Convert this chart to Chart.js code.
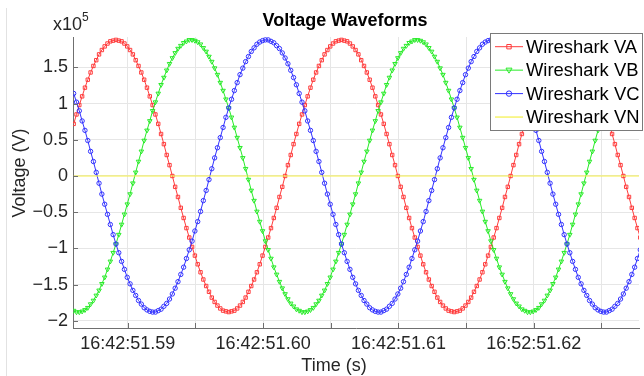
<!DOCTYPE html>
<html>
<head>
<meta charset="utf-8">
<title>Voltage Waveforms</title>
<script src="https://cdn.jsdelivr.net/npm/chart.js@4.4.0/dist/chart.umd.min.js"></script>
<style>
  html, body { margin: 0; padding: 0; background: #fff; }
  #wrap { position: relative; width: 644px; height: 376px; }
</style>
</head>
<body>
<div id="wrap"><canvas id="voltChart" width="644" height="376"></canvas></div>
<script>
/* ---- Data (voltages in units of 1e5 V) ---- */
const sampleStartMs = 586.0;          // ms after 16:42:51
const sampleStepMs = 1000 / 4800;     // 80 samples per 60 Hz cycle

const vaValues = [
  0.72, 0.85, 0.98, 1.10, 1.22, 1.33, 1.43, 1.52, 1.60, 1.68, 1.74, 1.79, 1.83, 1.86, 1.87, 1.88, 1.87, 1.86, 1.83, 1.79,
  1.74, 1.68, 1.60, 1.52, 1.43, 1.33, 1.22, 1.10, 0.98, 0.85, 0.72, 0.58, 0.44, 0.29, 0.15, 0.00, -0.15, -0.29, -0.44, -0.58,
  -0.72, -0.85, -0.98, -1.10, -1.22, -1.33, -1.43, -1.52, -1.60, -1.68, -1.74, -1.79, -1.83, -1.86, -1.87, -1.88, -1.87, -1.86, -1.83, -1.79,
  -1.74, -1.68, -1.60, -1.52, -1.43, -1.33, -1.22, -1.10, -0.98, -0.85, -0.72, -0.58, -0.44, -0.29, -0.15, 0.00, 0.15, 0.29, 0.44, 0.58,
  0.72, 0.85, 0.98, 1.10, 1.22, 1.33, 1.43, 1.52, 1.60, 1.68, 1.74, 1.79, 1.83, 1.86, 1.87, 1.88, 1.87, 1.86, 1.83, 1.79,
  1.74, 1.68, 1.60, 1.52, 1.43, 1.33, 1.22, 1.10, 0.98, 0.85, 0.72, 0.58, 0.44, 0.29, 0.15, 0.00, -0.15, -0.29, -0.44, -0.58,
  -0.72, -0.85, -0.98, -1.10, -1.22, -1.33, -1.43, -1.52, -1.60, -1.68, -1.74, -1.79, -1.83, -1.86, -1.87, -1.88, -1.87, -1.86, -1.83, -1.79,
  -1.74, -1.68, -1.60, -1.52, -1.43, -1.33, -1.22, -1.10, -0.98, -0.85, -0.72, -0.58, -0.44, -0.29, -0.15, 0.00, 0.15, 0.29, 0.44, 0.58,
  0.72, 0.85, 0.98, 1.10, 1.22, 1.33, 1.43, 1.52, 1.60, 1.68, 1.74, 1.79, 1.83, 1.86, 1.87, 1.88, 1.87, 1.86, 1.83, 1.79,
  1.74, 1.68, 1.60, 1.52, 1.43, 1.33, 1.22, 1.10, 0.98, 0.85, 0.72, 0.58, 0.44, 0.29, 0.15, 0.00, -0.15, -0.29, -0.44, -0.58,
  -0.72, -0.85
];

const vbValues = [
  -1.86, -1.88, -1.88, -1.87, -1.85, -1.82, -1.77, -1.72, -1.65, -1.58, -1.49, -1.40, -1.29, -1.18, -1.06, -0.94, -0.81, -0.67, -0.53, -0.39,
  -0.25, -0.10, 0.05, 0.20, 0.34, 0.49, 0.63, 0.76, 0.90, 1.02, 1.14, 1.26, 1.36, 1.46, 1.55, 1.63, 1.70, 1.76, 1.80, 1.84,
  1.86, 1.88, 1.88, 1.87, 1.85, 1.82, 1.77, 1.72, 1.65, 1.58, 1.49, 1.40, 1.29, 1.18, 1.06, 0.94, 0.81, 0.67, 0.53, 0.39,
  0.25, 0.10, -0.05, -0.20, -0.34, -0.49, -0.63, -0.76, -0.90, -1.02, -1.14, -1.26, -1.36, -1.46, -1.55, -1.63, -1.70, -1.76, -1.80, -1.84,
  -1.86, -1.88, -1.88, -1.87, -1.85, -1.82, -1.77, -1.72, -1.65, -1.58, -1.49, -1.40, -1.29, -1.18, -1.06, -0.94, -0.81, -0.67, -0.53, -0.39,
  -0.25, -0.10, 0.05, 0.20, 0.34, 0.49, 0.63, 0.76, 0.90, 1.02, 1.14, 1.26, 1.36, 1.46, 1.55, 1.63, 1.70, 1.76, 1.80, 1.84,
  1.86, 1.88, 1.88, 1.87, 1.85, 1.82, 1.77, 1.72, 1.65, 1.58, 1.49, 1.40, 1.29, 1.18, 1.06, 0.94, 0.81, 0.67, 0.53, 0.39,
  0.25, 0.10, -0.05, -0.20, -0.34, -0.49, -0.63, -0.76, -0.90, -1.02, -1.14, -1.26, -1.36, -1.46, -1.55, -1.63, -1.70, -1.76, -1.80, -1.84,
  -1.86, -1.88, -1.88, -1.87, -1.85, -1.82, -1.77, -1.72, -1.65, -1.58, -1.49, -1.40, -1.29, -1.18, -1.06, -0.94, -0.81, -0.67, -0.53, -0.39,
  -0.25, -0.10, 0.05, 0.20, 0.34, 0.49, 0.63, 0.76, 0.90, 1.02, 1.14, 1.26, 1.36, 1.46, 1.55, 1.63, 1.70, 1.76, 1.80, 1.84,
  1.86, 1.88
];

const vcValues = [
  1.14, 1.02, 0.90, 0.76, 0.63, 0.49, 0.34, 0.20, 0.05, -0.10, -0.25, -0.39, -0.53, -0.67, -0.81, -0.94, -1.06, -1.18, -1.29, -1.40,
  -1.49, -1.58, -1.65, -1.72, -1.77, -1.82, -1.85, -1.87, -1.88, -1.88, -1.86, -1.84, -1.80, -1.76, -1.70, -1.63, -1.55, -1.46, -1.36, -1.26,
  -1.14, -1.02, -0.90, -0.76, -0.63, -0.49, -0.34, -0.20, -0.05, 0.10, 0.25, 0.39, 0.53, 0.67, 0.81, 0.94, 1.06, 1.18, 1.29, 1.40,
  1.49, 1.58, 1.65, 1.72, 1.77, 1.82, 1.85, 1.87, 1.88, 1.88, 1.86, 1.84, 1.80, 1.76, 1.70, 1.63, 1.55, 1.46, 1.36, 1.26,
  1.14, 1.02, 0.90, 0.76, 0.63, 0.49, 0.34, 0.20, 0.05, -0.10, -0.25, -0.39, -0.53, -0.67, -0.81, -0.94, -1.06, -1.18, -1.29, -1.40,
  -1.49, -1.58, -1.65, -1.72, -1.77, -1.82, -1.85, -1.87, -1.88, -1.88, -1.86, -1.84, -1.80, -1.76, -1.70, -1.63, -1.55, -1.46, -1.36, -1.26,
  -1.14, -1.02, -0.90, -0.76, -0.63, -0.49, -0.34, -0.20, -0.05, 0.10, 0.25, 0.39, 0.53, 0.67, 0.81, 0.94, 1.06, 1.18, 1.29, 1.40,
  1.49, 1.58, 1.65, 1.72, 1.77, 1.82, 1.85, 1.87, 1.88, 1.88, 1.86, 1.84, 1.80, 1.76, 1.70, 1.63, 1.55, 1.46, 1.36, 1.26,
  1.14, 1.02, 0.90, 0.76, 0.63, 0.49, 0.34, 0.20, 0.05, -0.10, -0.25, -0.39, -0.53, -0.67, -0.81, -0.94, -1.06, -1.18, -1.29, -1.40,
  -1.49, -1.58, -1.65, -1.72, -1.77, -1.82, -1.85, -1.87, -1.88, -1.88, -1.86, -1.84, -1.80, -1.76, -1.70, -1.63, -1.55, -1.46, -1.36, -1.26,
  -1.14, -1.02
];

const vnValues = [
  0, 0, 0, 0, 0, 0, 0, 0, 0, 0, 0, 0, 0, 0, 0, 0, 0, 0, 0, 0,
  0, 0, 0, 0, 0, 0, 0, 0, 0, 0, 0, 0, 0, 0, 0, 0, 0, 0, 0, 0,
  0, 0, 0, 0, 0, 0, 0, 0, 0, 0, 0, 0, 0, 0, 0, 0, 0, 0, 0, 0,
  0, 0, 0, 0, 0, 0, 0, 0, 0, 0, 0, 0, 0, 0, 0, 0, 0, 0, 0, 0,
  0, 0, 0, 0, 0, 0, 0, 0, 0, 0, 0, 0, 0, 0, 0, 0, 0, 0, 0, 0,
  0, 0, 0, 0, 0, 0, 0, 0, 0, 0, 0, 0, 0, 0, 0, 0, 0, 0, 0, 0,
  0, 0, 0, 0, 0, 0, 0, 0, 0, 0, 0, 0, 0, 0, 0, 0, 0, 0, 0, 0,
  0, 0, 0, 0, 0, 0, 0, 0, 0, 0, 0, 0, 0, 0, 0, 0, 0, 0, 0, 0,
  0, 0, 0, 0, 0, 0, 0, 0, 0, 0, 0, 0, 0, 0, 0, 0, 0, 0, 0, 0,
  0, 0, 0, 0, 0, 0, 0, 0, 0, 0, 0, 0, 0, 0, 0, 0, 0, 0, 0, 0,
  0, 0
];

const seriesNames = ["Wireshark VA", "Wireshark VB", "Wireshark VC", "Wireshark VN"];

const xTickMs = [590, 595, 600, 605, 610, 615, 620, 625];
const xTickLabels = ["16:42:51.59", "", "16:42:51.60", "", "16:42:51.61", "", "16:52:51.62", ""];
const yTickValues = [-2, -1.5, -1, -0.5, 0, 0.5, 1, 1.5];
const yTickLabels = ["\u22122", "\u22121.5", "\u22121", "\u22120.5", "0", "0.5", "1", "1.5"];


/* ---- Look ---- */
const FONT = "'Liberation Sans', Arial, Helvetica, sans-serif";
const colors = {
  va: "rgb(255,60,60)",
  vb: "rgb(40,235,40)",
  vc: "rgb(50,50,255)",
  vn: "rgb(245,240,70)",
  axis: "#6f6f6f",
  grid: "#e6e6e6",
  text: "#262626"
};

const toPoints = vals => vals.map((v, i) => ({ x: sampleStartMs + i * sampleStepMs, y: v }));

function series(label, vals, color, style, rotation, order) {
  return {
    label: label,
    data: toPoints(vals),
    borderColor: color,
    borderWidth: 1,
    pointStyle: style,
    pointRotation: rotation,
    pointRadius: style === "rect" ? 2.4 : style === "triangle" ? 2.6 : 2.2,
    pointBorderColor: color,
    pointBackgroundColor: "rgba(0,0,0,0)",
    pointBorderWidth: 1,
    tension: 0,
    order: order
  };
}


/* ---- Titles, legend, inward ticks ---- */
const overlayPlugin = {
  id: "overlay",
  afterDraw(chart) {
    const { ctx, chartArea: area, scales } = chart;
    ctx.save();

    // faint panel edge on the left
    ctx.strokeStyle = "#e2e2e2";
    ctx.lineWidth = 1;
    ctx.beginPath();
    ctx.moveTo(6.5, 8);
    ctx.lineTo(6.5, 376);
    ctx.stroke();

    // inward tick marks
    ctx.strokeStyle = colors.axis;
    ctx.beginPath();
    scales.x.ticks.forEach(t => {
      const px = Math.round(scales.x.getPixelForValue(t.value)) + 0.5;
      ctx.moveTo(px, area.bottom);
      ctx.lineTo(px, area.bottom - 5);
    });
    scales.y.ticks.forEach(t => {
      const py = Math.round(scales.y.getPixelForValue(t.value)) + 0.5;
      ctx.moveTo(area.left, py);
      ctx.lineTo(area.left + 5, py);
    });
    ctx.stroke();

    // title
    ctx.fillStyle = "#000";
    ctx.font = "bold 18px " + FONT;
    ctx.textAlign = "center";
    ctx.textBaseline = "alphabetic";
    ctx.fillText("Voltage Waveforms", 345, 26);

    // exponent label
    ctx.fillStyle = colors.text;
    ctx.textAlign = "left";
    ctx.font = "18px " + FONT;
    ctx.fillText("x10", 53, 30);
    ctx.font = "12px " + FONT;
    ctx.fillText("5", 82, 21);

    // axis titles
    ctx.font = "18px " + FONT;
    ctx.textAlign = "center";
    ctx.fillText("Time (s)", 334, 371);
    ctx.save();
    ctx.translate(25, 173);
    ctx.rotate(-Math.PI / 2);
    ctx.fillText("Voltage (V)", 0, 0);
    ctx.restore();

    // legend box
    ctx.fillStyle = "#fff";
    ctx.fillRect(490.5, 33.5, 152, 97);
    ctx.strokeStyle = "#7a7a7a";
    ctx.strokeRect(490.5, 33.5, 152, 97);

    chart.data.datasets.forEach((ds, i) => {
      const y = 46.7 + i * 23.45;
      ctx.strokeStyle = ds.borderColor;
      ctx.lineWidth = ds.borderWidth;
      ctx.beginPath();
      ctx.moveTo(495, y);
      ctx.lineTo(523, y);
      ctx.stroke();
      const mx = 509;
      ctx.lineWidth = 1;
      ctx.beginPath();
      if (ds.pointStyle === "rect") {
        ctx.rect(mx - 2.2, y - 2.2, 4.4, 4.4);
      } else if (ds.pointStyle === "triangle") {
        ctx.moveTo(mx - 3, y - 2);
        ctx.lineTo(mx + 3, y - 2);
        ctx.lineTo(mx, y + 3);
        ctx.closePath();
      } else if (ds.pointStyle === "circle") {
        ctx.arc(mx, y, 2.7, 0, Math.PI * 2);
      }
      if (ds.pointRadius > 0) ctx.stroke();
      ctx.fillStyle = "#000";
      ctx.font = "18.4px " + FONT;
      ctx.textAlign = "left";
      ctx.textBaseline = "middle";
      ctx.fillText(ds.label, 526, y + 1);
    });

    ctx.restore();
  }
};


/* ---- Chart ---- */
const vn = series(seriesNames[3], vnValues, colors.vn, false, 0, 0);
vn.pointRadius = 0;
vn.borderWidth = 1.2;

new Chart(document.getElementById("voltChart"), {
  type: "line",
  data: {
    datasets: [
      series(seriesNames[0], vaValues, colors.va, "rect", 0, 3),
      series(seriesNames[1], vbValues, colors.vb, "triangle", 180, 2),
      series(seriesNames[2], vcValues, colors.vc, "circle", 0, 1),
      vn
    ]
  },
  options: {
    responsive: false,
    animation: false,
    devicePixelRatio: 1,
    events: [],
    layout: { padding: { left: 0, right: 0, top: 37, bottom: 0 } },
    plugins: {
      legend: { display: false },
      tooltip: { enabled: false },
      title: { display: false }
    },
    scales: {
      x: {
        type: "linear",
        min: 585.95,
        max: 627.78,
        afterBuildTicks: s => { s.ticks = xTickMs.map(v => ({ value: v })); },
        afterFit: s => { s.height = 48; s.paddingLeft = 0; s.paddingRight = 0; },
        grid: { color: colors.grid, drawTicks: false },
        border: { display: true, color: colors.axis, width: 1 },
        ticks: {
          autoSkip: false,
          maxRotation: 0,
          padding: 5,
          color: colors.text,
          font: { family: FONT, size: 18 },
          callback: (v, i) => xTickLabels[i]
        }
      },
      y: {
        type: "linear",
        min: -2.1,
        max: 1.92,
        afterBuildTicks: s => { s.ticks = yTickValues.map(v => ({ value: v })); },
        afterFit: s => { s.width = 73; s.paddingTop = 0; s.paddingBottom = 0; },
        grid: { color: colors.grid, drawTicks: false },
        border: { display: true, color: colors.axis, width: 1 },
        ticks: {
          autoSkip: false,
          padding: 5,
          color: colors.text,
          font: { family: FONT, size: 18 },
          callback: (v, i) => yTickLabels[i]
        }
      }
    }
  },
  plugins: [overlayPlugin]
});
</script>
</body>
</html>
